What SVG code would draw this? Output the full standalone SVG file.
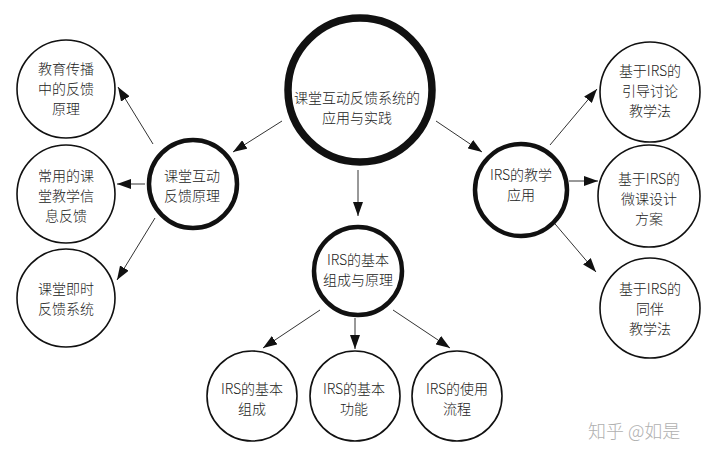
<svg xmlns="http://www.w3.org/2000/svg" width="721" height="459" viewBox="0 0 721 459">
<defs>
<marker id="ah" markerUnits="userSpaceOnUse" markerWidth="14" markerHeight="10" viewBox="0 0 14 10" refX="14" refY="5" orient="auto">
<path d="M0,0 L14,5 L0,10 Z" fill="#111"/>
</marker>
<style>
.c{fill:#fff;stroke:#111;stroke-width:1.6}
.c2{fill:#fff;stroke:#111;stroke-width:4.5}
.c3{fill:#fff;stroke:#111;stroke-width:7.5}
text{font-family:"Noto Sans CJK SC","Noto Sans",sans-serif;font-size:14px;font-weight:300;fill:#222;text-anchor:middle;dominant-baseline:central}
.ln{stroke:#333;stroke-width:1;fill:none;marker-end:url(#ah)}
.wm{font-size:18px;fill:#b0b0b0;text-anchor:start}
</style>
</defs>
<rect width="721" height="459" fill="#fff"/>
<g id="connectors">
<line class="ln" x1="282" y1="121" x2="233" y2="152"/>
<line class="ln" x1="358" y1="170" x2="358" y2="216"/>
<line class="ln" x1="436" y1="121" x2="482" y2="152"/>
<line class="ln" x1="153" y1="144" x2="118" y2="87"/>
<line class="ln" x1="145" y1="184" x2="117" y2="184"/>
<line class="ln" x1="155" y1="218" x2="117" y2="280"/>
<line class="ln" x1="550" y1="145" x2="597" y2="89"/>
<line class="ln" x1="569" y1="181" x2="598" y2="181"/>
<line class="ln" x1="550" y1="218" x2="596" y2="272"/>
<line class="ln" x1="320" y1="310" x2="263" y2="348"/>
<line class="ln" x1="355" y1="318" x2="355" y2="349"/>
<line class="ln" x1="393" y1="310" x2="450" y2="348"/>
</g>
<g id="main">
<circle class="c3" cx="360" cy="90" r="72"/>
<text x="357" y="97">课堂互动反馈系统的</text>
<text x="357" y="117">应用与实践</text>
</g>
<g id="n-left">
<circle class="c2" cx="193" cy="184" r="44"/>
<text x="192" y="175">课堂互动</text>
<text x="192" y="195">反馈原理</text>
</g>
<g id="n-right">
<circle class="c2" cx="521" cy="190" r="46"/>
<text x="521" y="174">IRS的教学</text>
<text x="521" y="194">应用</text>
</g>
<g id="n-bottom">
<circle class="c2" cx="358" cy="271" r="44"/>
<text x="358" y="259">IRS的基本</text>
<text x="358" y="279">组成与原理</text>
</g>
<g id="l1">
<circle class="c" cx="66" cy="89" r="49"/>
<text x="66" y="68">教育传播</text>
<text x="66" y="88">中的反馈</text>
<text x="66" y="108">原理</text>
</g>
<g id="l2">
<circle class="c" cx="66" cy="194" r="49"/>
<text x="66" y="175">常用的课</text>
<text x="66" y="195">堂教学信</text>
<text x="66" y="215">息反馈</text>
</g>
<g id="l3">
<circle class="c" cx="66" cy="298" r="49"/>
<text x="66" y="288">课堂即时</text>
<text x="66" y="308">反馈系统</text>
</g>
<g id="r1">
<circle class="c" cx="650" cy="92" r="50"/>
<text x="650" y="70">基于IRS的</text>
<text x="650" y="90">引导讨论</text>
<text x="650" y="110">教学法</text>
</g>
<g id="r2">
<circle class="c" cx="649" cy="196" r="51"/>
<text x="649" y="178">基于IRS的</text>
<text x="649" y="198">微课设计</text>
<text x="649" y="218">方案</text>
</g>
<g id="r3">
<circle class="c" cx="650" cy="308" r="50"/>
<text x="650" y="288">基于IRS的</text>
<text x="650" y="308">同伴</text>
<text x="650" y="328">教学法</text>
</g>
<g id="b1">
<circle class="c" cx="252" cy="396" r="45"/>
<text x="252" y="388">IRS的基本</text>
<text x="252" y="408">组成</text>
</g>
<g id="b2">
<circle class="c" cx="355" cy="396" r="45"/>
<text x="354" y="388">IRS的基本</text>
<text x="354" y="408">功能</text>
</g>
<g id="b3">
<circle class="c" cx="457" cy="396" r="45"/>
<text x="457" y="388">IRS的使用</text>
<text x="457" y="408">流程</text>
</g>
<text class="wm" x="588" y="430">知乎 @如是</text>
</svg>
